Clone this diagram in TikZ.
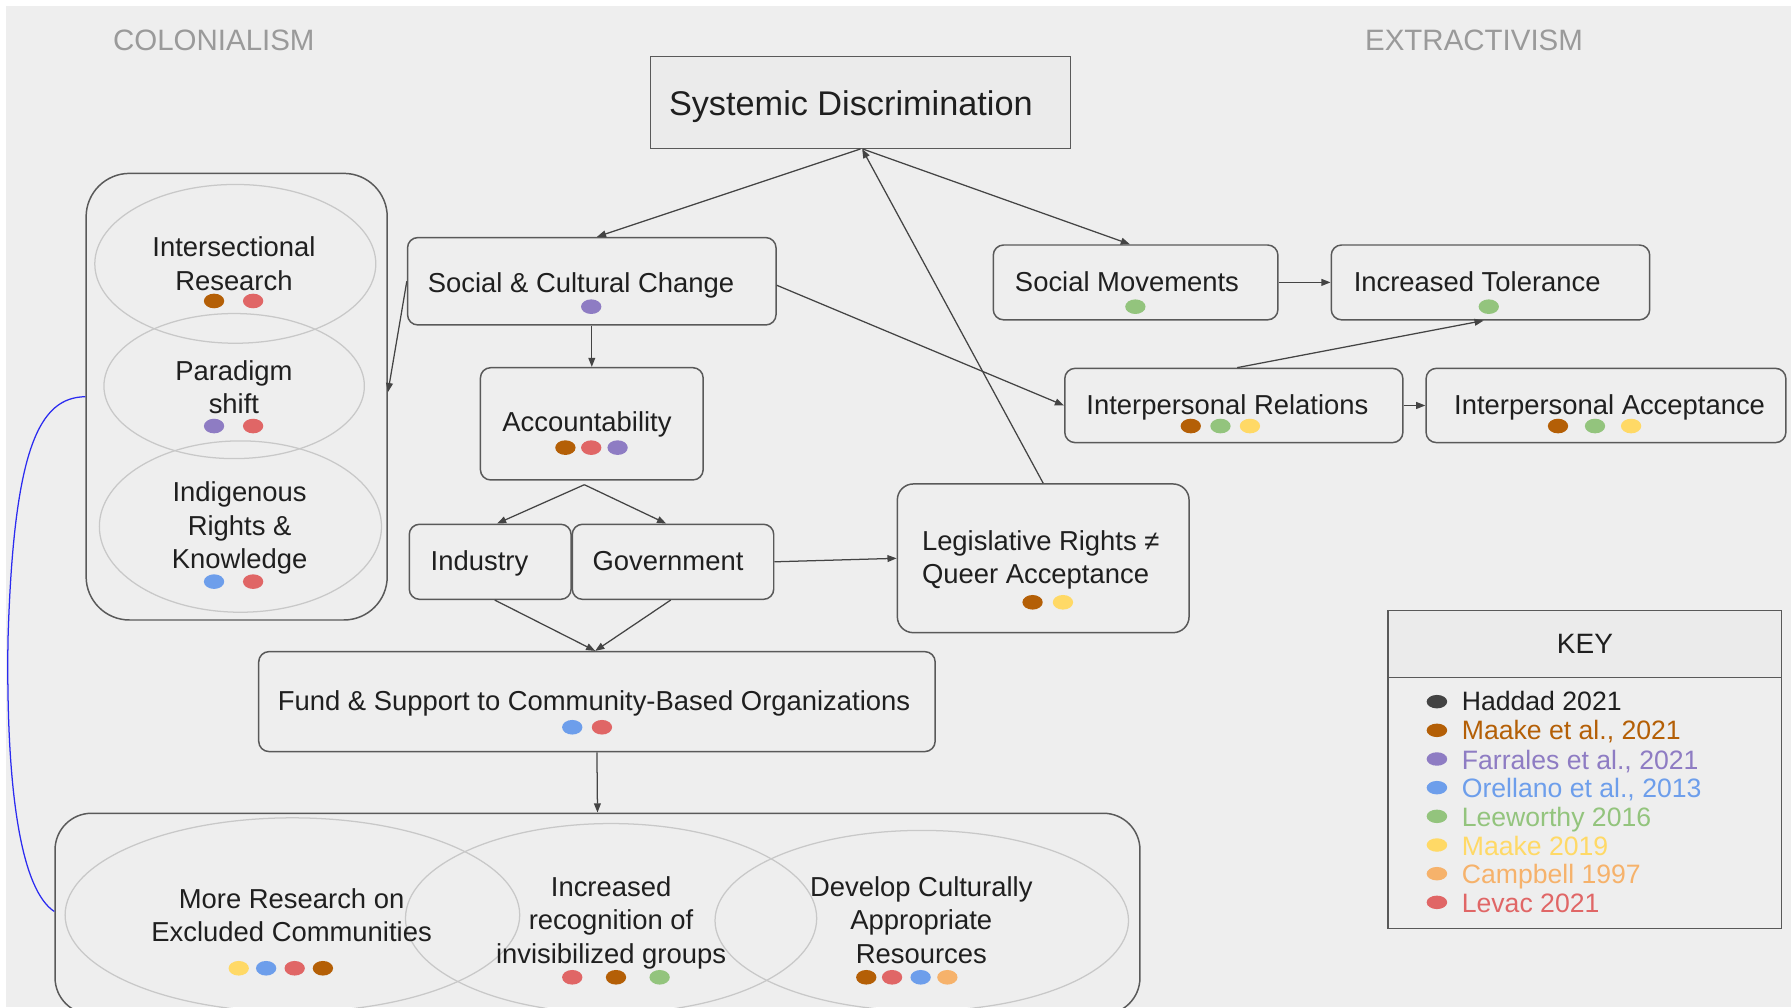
\documentclass[tikz,border=0pt]{standalone}
\usepackage{fontspec}
\setmainfont{Liberation Sans}
\usetikzlibrary{arrows.meta}
\definecolor{bgc}{HTML}{EEEEEE}
\definecolor{boxc}{HTML}{EEEEEE}
\definecolor{hdrfill}{HTML}{EBEBEB}
\definecolor{linec}{HTML}{595959}
\definecolor{arrc}{HTML}{444444}
\definecolor{txtc}{HTML}{1F1F1F}
\definecolor{ellc}{HTML}{C8C8C8}
\definecolor{hdrc}{HTML}{9A9A9A}
\definecolor{cHad}{HTML}{434343}
\definecolor{cMaa}{HTML}{B45F06}
\definecolor{cFar}{HTML}{8E7CC3}
\definecolor{cOre}{HTML}{6D9EEB}
\definecolor{cLee}{HTML}{93C47D}
\definecolor{cMnn}{HTML}{FFD966}
\definecolor{cCam}{HTML}{F6B26B}
\definecolor{cLev}{HTML}{E06666}
\definecolor{curvec}{HTML}{2B2BF0}
\newcommand{\rdot}[3]{\fill[#1] (#2,#3) ellipse [x radius=8.9pt, y radius=6.4pt];}
\newcommand{\kdot}[3]{\fill[#1] (#2,#3) ellipse [x radius=9pt, y radius=5.9pt];}
\begin{document}
\begin{tikzpicture}[x=1pt,y=-1pt,
  box/.style={draw=linec, line width=1.3pt, fill=boxc, rounded corners=9pt, inner sep=0pt},
  sqbox/.style={draw=linec, line width=1.3pt, fill=hdrfill, inner sep=0pt},
  grp/.style={draw=linec, line width=1.3pt, inner sep=0pt},
  ell/.style={draw=ellc, line width=1.1pt},
  txt/.style={text=txtc, font=\fontsize{24}{29.2}\selectfont, inner sep=0pt},
  hdr/.style={text=hdrc, font=\fontsize{25.8}{30}\selectfont, inner sep=0pt},
  ktxt/.style={font=\fontsize{23.3}{28}\selectfont, inner sep=0pt, anchor=base west},
  arr/.style={draw=arrc, line width=1.1pt, -{Triangle[length=8pt,width=6pt]}},
]
\useasboundingbox (0,0) rectangle (1568,882);
\clip (0,0) rectangle (1568,882);
\fill[white] (0,0) rectangle (1568,882);
\fill[bgc] (5,5) rectangle (1568,882);

% section headers
\node[hdr, anchor=base] (colT) at (187.2,44.4) {COLONIALISM};
\node[hdr, anchor=base] (extT) at (1290.5,44.4) {EXTRACTIVISM};

% groups
\node[grp, rounded corners=38pt, minimum width=263.6pt, minimum height=391pt] (lg) at (207.2,347.3) {};
\node[grp, rounded corners=32pt, minimum width=949.8pt, minimum height=176pt] (bg) at (523.1,800) {};

% ellipses in left group
\draw[ell] (206,231) ellipse [x radius=123pt, y radius=69.5pt];
\draw[ell] (205,338) ellipse [x radius=114pt, y radius=63.5pt];
\draw[ell] (210.5,461) ellipse [x radius=123.5pt, y radius=75pt];
% ellipses in bottom group
\draw[ell] (256,801) ellipse [x radius=199pt, y radius=85pt];
\draw[ell] (535,804) ellipse [x radius=180pt, y radius=83pt];
\draw[ell] (807,806) ellipse [x radius=181pt, y radius=79pt];

% boxes
\node[sqbox, minimum width=367.8pt, minimum height=80.2pt] (sys) at (753.3,89.7) {};
\node[box, minimum width=322.6pt, minimum height=76.5pt] (soc) at (518.1,246.25) {};
\node[box, minimum width=195pt, minimum height=98.3pt] (acc) at (518.1,371.05) {};
\node[box, minimum width=141.7pt, minimum height=65.7pt] (ind) at (429.15,491.85) {};
\node[box, minimum width=176.4pt, minimum height=65.7pt] (gov) at (589.2,491.85) {};
\node[box, rounded corners=14pt, minimum width=255.4pt, minimum height=130.2pt] (leg) at (913.3,488.8) {};
\node[box, minimum width=592.2pt, minimum height=87.5pt] (fund) at (522.6,614.25) {};
\node[box, minimum width=249.2pt, minimum height=65.5pt] (sm) at (994.2,247.25) {};
\node[box, minimum width=278.8pt, minimum height=65.5pt] (it) at (1304.9,247.25) {};
\node[box, minimum width=296pt, minimum height=65pt] (ir) at (1080.2,355) {};
\node[box, minimum width=315pt, minimum height=65pt] (ia) at (1406,355) {};

% texts
\node[txt, font=\fontsize{30}{34}\selectfont, anchor=base west] (sysT) at (585.5,100.7) {Systemic Discrimination};
\node[txt, anchor=base west] (socT) at (374.4,255.9) {Social \& Cultural Change};
\node[txt, anchor=base] (accT) at (513.9,377.9) {Accountability};
\node[txt, anchor=base west] (indT) at (376.9,499.6) {Industry};
\node[txt, anchor=base west] (govT) at (518.6,499.6) {Government};
\node[txt, anchor=north west, align=left] (legT) at (807,461.5) {\rule{0pt}{20pt}Legislative Rights ≠\\Queer Acceptance};
\node[txt, anchor=base] (fundT) at (520,621.6) {Fund \& Support to Community-Based Organizations};
\node[txt, anchor=base west] (smT) at (888.4,255.3) {Social Movements};
\node[txt, anchor=base west] (itT) at (1185,255.3) {Increased Tolerance};
\node[txt, anchor=base west] (irT) at (951,363.3) {Interpersonal Relations};
\node[txt, anchor=base west] (iaT) at (1272.9,363.3) {Interpersonal Acceptance};
\node[txt, anchor=north, align=center] (isrT) at (204.8,204.7) {\rule{0pt}{20pt}Intersectional\\Research};
\node[txt, anchor=north, align=center] (parT) at (204.8,312.7) {\rule{0pt}{20pt}Paradigm\\shift};
\node[txt, anchor=north, align=center] (indgT) at (209.8,419.2) {\rule{0pt}{20pt}Indigenous\\Rights \&\\Knowledge};
\node[txt, anchor=north, align=center] (mreT) at (255.3,775.2) {\rule{0pt}{20pt}More Research on\\Excluded Communities};
\node[txt, anchor=north, align=center] (incT) at (535,764.5) {\rule{0pt}{20pt}Increased\\recognition of\\invisibilized groups};
\node[txt, anchor=north, align=center] (devT) at (806.6,764.5) {\rule{0pt}{20pt}Develop Culturally\\Appropriate\\Resources};

% dots
\rdot{cFar}{517.6}{268.5}
\rdot{cMaa}{495}{391.9}\rdot{cLev}{517.6}{391.9}\rdot{cFar}{540.7}{391.9}
\rdot{cMaa}{904}{527.3}\rdot{cMnn}{930.6}{527.3}
\rdot{cOre}{501}{636.7}\rdot{cLev}{527}{636.7}
\rdot{cLee}{994}{268.5}
\rdot{cLee}{1303.4}{268.5}
\rdot{cMaa}{1042.5}{373}\rdot{cLee}{1068.5}{373}\rdot{cMnn}{1094.3}{373}
\rdot{cMaa}{1364}{373}\rdot{cLee}{1396.4}{373}\rdot{cMnn}{1428}{373}
\rdot{cMaa}{187.4}{263.5}\rdot{cLev}{221.6}{263.5}
\rdot{cFar}{187.4}{373}\rdot{cLev}{221.6}{373}
\rdot{cOre}{187.4}{509.2}\rdot{cLev}{221.6}{509.2}
\rdot{cMnn}{209}{847.7}\rdot{cOre}{233}{847.7}\rdot{cLev}{258}{847.7}\rdot{cMaa}{282.7}{847.7}
\rdot{cLev}{501}{855.6}\rdot{cMaa}{539.3}{855.6}\rdot{cLee}{577.5}{855.6}
\rdot{cMaa}{758.4}{855.6}\rdot{cLev}{781}{855.6}\rdot{cOre}{806}{855.6}\rdot{cCam}{829.4}{855.6}

% key
\node[sqbox, minimum width=344.7pt, minimum height=58.7pt] (keyh) at (1387.35,563.95) {};
\node[sqbox, fill=boxc, minimum width=344.7pt, minimum height=219.7pt] (keyb) at (1387.35,703.15) {};
\node[txt, font=\fontsize{24.5}{28}\selectfont, anchor=base] (keyT) at (1387.6,572) {KEY};
\kdot{cHad}{1258}{614.3}\node[ktxt, text=txtc] (k1) at (1279.6,622.1) {Haddad 2021};
\kdot{cMaa}{1258}{639.4}\node[ktxt, text=cMaa] (k2) at (1279.6,647.2) {Maake et al., 2021};
\kdot{cFar}{1258}{664.5}\node[ktxt, text=cFar] (k3) at (1279.6,673.3) {Farrales et al., 2021};
\kdot{cOre}{1258}{689.6}\node[ktxt, text=cOre] (k4) at (1279.6,698.4) {Orellano et al., 2013};
\kdot{cLee}{1258}{714.7}\node[ktxt, text=cLee] (k5) at (1279.6,723.5) {Leeworthy 2016};
\kdot{cMnn}{1258}{739.8}\node[ktxt, text=cMnn] (k6) at (1279.6,748.6) {Maake 2019};
\kdot{cCam}{1258}{764.9}\node[ktxt, text=cCam] (k7) at (1279.6,773.7) {Campbell 1997};
\kdot{cLev}{1258}{790.0}\node[ktxt, text=cLev] (k8) at (1279.6,798.8) {Levac 2021};

% connectors
\draw[arr] (sys.south) -- ([xshift=4.5pt]soc.north);
\draw[arr] ([xshift=2pt]sys.south) -- ([xshift=-5pt]sm.north);
\draw[arr] (leg.north) -- ([xshift=1.5pt]sys.south);
\draw[arr] ([yshift=-3.5pt]soc.east) -- (ir.west);
\draw[arr] (soc.west) -- ([yshift=4pt]lg.east);
\draw[arr] (soc.south) -- (acc.north);
\coordinate (accx) at ([xshift=-6.5pt,yshift=-3.5pt]acc.south);
\draw[arr] (accx) -- ([xshift=6pt]ind.north);
\draw[arr] (accx) -- ([xshift=-6pt]gov.north);
\draw[arr] ([xshift=4pt]ind.south) -- ([xshift=-1.5pt]fund.north);
\draw[arr] ([xshift=-2pt]gov.south) -- ([xshift=-1.5pt]fund.north);
\draw[arr] (gov.east) -- (leg.west);
\draw[arr] (fund.south) -- (bg.north);
\draw[arr] (sm.east) -- (it.west);
\draw[arr] ([xshift=3pt]ir.north) -- ([xshift=-6pt]it.south);
\draw[arr] (ir.east) -- (ia.west);

% blue bracket curve
\coordinate (bmid) at (7,560);
\draw[curvec, line width=1.1pt] (lg.west) .. controls (35,348) and (12,390) .. (bmid) .. controls (5,700) and (20,780) .. ([yshift=2pt]bg.west);
\end{tikzpicture}
\end{document}
